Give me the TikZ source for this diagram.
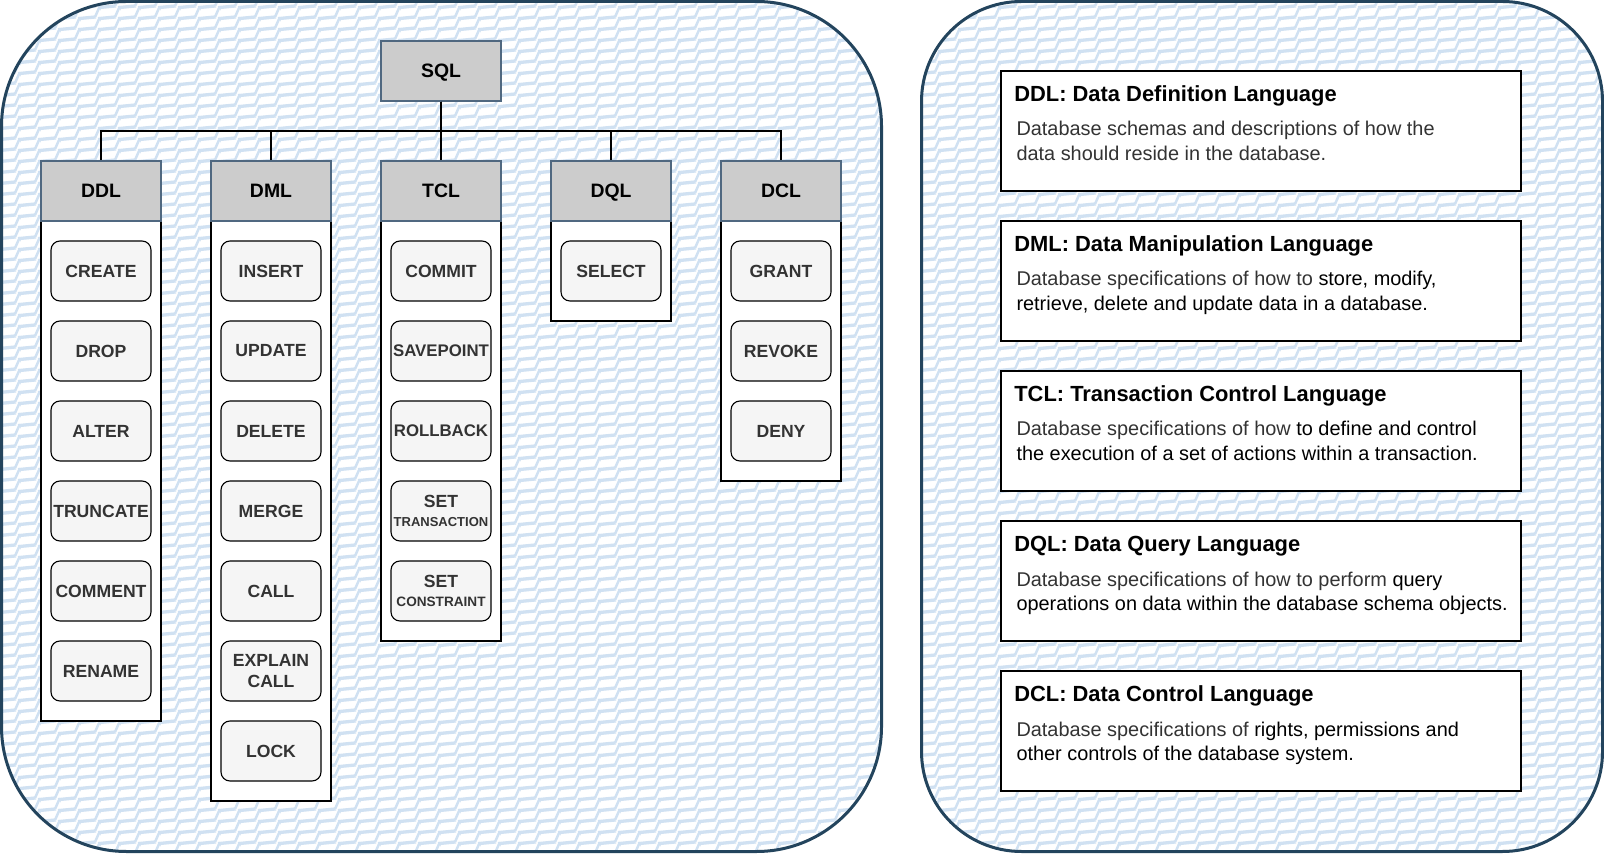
\documentclass[tikz,border=0pt]{standalone}
\usepackage{fontspec}
\setmainfont{Liberation Sans}
\usetikzlibrary{calc,patterns}
\definecolor{panelc}{HTML}{23445D}
\definecolor{zzc}{RGB}{208,225,242}
\definecolor{hdrfill}{HTML}{CCCCCC}
\definecolor{hdrc}{RGB}{80,104,128}
\definecolor{itemfill}{HTML}{F5F5F5}
\definecolor{txtgray}{HTML}{333333}
\pgfdeclarepatternformonly{zzfill}{\pgfqpoint{0pt}{0pt}}{\pgfqpoint{10pt}{5.5pt}}{\pgfqpoint{10pt}{5.5pt}}{%
  \pgfsetlinewidth{1.3pt}%
  \pgfsetmiterjoin%
  \pgfpathmoveto{\pgfqpoint{-20pt}{-11pt}}%
  \pgfpathlineto{\pgfqpoint{-12pt}{-10.2pt}}%
  \pgfpathlineto{\pgfqpoint{-10pt}{-5.5pt}}%
  \pgfpathlineto{\pgfqpoint{-2pt}{-4.7pt}}%
  \pgfpathlineto{\pgfqpoint{0pt}{0pt}}%
  \pgfpathlineto{\pgfqpoint{8pt}{0.8pt}}%
  \pgfpathlineto{\pgfqpoint{10pt}{5.5pt}}%
  \pgfpathlineto{\pgfqpoint{18pt}{6.3pt}}%
  \pgfpathlineto{\pgfqpoint{20pt}{11pt}}%
  \pgfpathmoveto{\pgfqpoint{-20pt}{-5.5pt}}%
  \pgfpathlineto{\pgfqpoint{-12pt}{-4.7pt}}%
  \pgfpathlineto{\pgfqpoint{-10pt}{0pt}}%
  \pgfpathlineto{\pgfqpoint{-2pt}{0.8pt}}%
  \pgfpathlineto{\pgfqpoint{0pt}{5.5pt}}%
  \pgfpathlineto{\pgfqpoint{8pt}{6.3pt}}%
  \pgfpathlineto{\pgfqpoint{10pt}{11pt}}%
  \pgfpathlineto{\pgfqpoint{18pt}{11.8pt}}%
  \pgfpathlineto{\pgfqpoint{20pt}{16.5pt}}%
  \pgfpathmoveto{\pgfqpoint{-20pt}{-16.5pt}}%
  \pgfpathlineto{\pgfqpoint{-12pt}{-15.7pt}}%
  \pgfpathlineto{\pgfqpoint{-10pt}{-11pt}}%
  \pgfpathlineto{\pgfqpoint{-2pt}{-10.2pt}}%
  \pgfpathlineto{\pgfqpoint{0pt}{-5.5pt}}%
  \pgfpathlineto{\pgfqpoint{8pt}{-4.7pt}}%
  \pgfpathlineto{\pgfqpoint{10pt}{0pt}}%
  \pgfpathlineto{\pgfqpoint{18pt}{0.8pt}}%
  \pgfpathlineto{\pgfqpoint{20pt}{5.5pt}}%
  \pgfusepath{stroke}%
}
\tikzset{
  panel/.style={draw=panelc, line width=1.5pt, preaction={fill=white}, pattern=zzfill, pattern color=zzc},
  hdr/.style={draw=hdrc, line width=0.7pt, fill=hdrfill, minimum width=60pt, minimum height=30pt, inner sep=0pt, text depth=0pt, font=\fontsize{9.7}{11}\selectfont\bfseries},
  colbody/.style={draw=black, line width=1pt, fill=white, minimum width=60pt, inner sep=0pt},
  item/.style={draw=black, line width=0.55pt, fill=itemfill, rounded corners=4.5pt, minimum width=50pt, minimum height=30pt, inner sep=0pt, align=center, text=txtgray, font=\fontsize{8.8}{10.8}\selectfont\bfseries},
  itemsm/.style={item, font=\fontsize{8.4}{10.8}\selectfont\bfseries},
  itemtwo/.style={item, font=\fontsize{8.8}{9.9}\selectfont\bfseries},
  conn/.style={draw=black, line width=1pt},
  descbox/.style={draw=black, line width=0.6pt, fill=white, minimum width=260pt, minimum height=60pt, inner sep=0pt},
  desctitle/.style={anchor=base west, inner sep=0pt, font=\fontsize{10.95}{13}\selectfont\bfseries},
  desctext/.style={anchor=base west, inner sep=0pt, font=\fontsize{9.95}{12.15}\selectfont},
}
\begin{document}
\begin{tikzpicture}[x=0.5pt,y=-0.5pt]
\useasboundingbox (0,0) rectangle (1604,854);
% panels
\path[panel, rounded corners=62.5pt] (1.5,1.5) rectangle (881.5,851.5);
\path[panel, rounded corners=50pt] (921.5,1.5) rectangle (1602.5,851.5);
% column bodies
\node[colbody, minimum height=250pt] (ddlb) at (101,471) {};
\node[colbody, minimum height=290pt] (dmlb) at (271,511) {};
\node[colbody, minimum height=210pt] (tclb) at (441,431) {};
\node[colbody, minimum height=50pt] (dqlb) at (611,271) {};
\node[colbody, minimum height=130pt] (dclb) at (781,351) {};
% headers
\node[hdr] (sql) at (441,71) {SQL};
\node[hdr] (ddl) at (101,191) {DDL};
\node[hdr] (dml) at (271,191) {DML};
\node[hdr] (tcl) at (441,191) {TCL};
\node[hdr] (dql) at (611,191) {DQL};
\node[hdr] (dcl) at (781,191) {DCL};
% connectors
\coordinate (bus) at (441,131);
\draw[conn] (sql.south) -- (bus) -| (ddl.north);
\draw[conn] (sql.south) -- (bus) -| (dml.north);
\draw[conn] (sql.south) -- (bus) -| (tcl.north);
\draw[conn] (sql.south) -- (bus) -| (dql.north);
\draw[conn] (sql.south) -- (bus) -| (dcl.north);
% DDL items
\node[item] (ddl1) at (101,271) {CREATE};
\node[item] (ddl2) at (101,351) {DROP};
\node[item] (ddl3) at (101,431) {ALTER};
\node[item] (ddl4) at (101,511) {TRUNCATE};
\node[item] (ddl5) at (101,591) {COMMENT};
\node[item] (ddl6) at (101,671) {RENAME};
% DML items
\node[item] (dml1) at (271,271) {INSERT};
\node[item] (dml2) at (271,351) {UPDATE};
\node[item] (dml3) at (271,431) {DELETE};
\node[item] (dml4) at (271,511) {MERGE};
\node[item] (dml5) at (271,591) {CALL};
\node[item] (dml6) at (271,671) {EXPLAIN\\CALL};
\node[item] (dml7) at (271,751) {LOCK};
% TCL items
\node[item] (tcl1) at (441,271) {COMMIT};
\node[itemsm] (tcl2) at (441,351) {SAVEPOINT};
\node[itemsm] (tcl3) at (441,431) {ROLLBACK};
\node[itemtwo] (tcl4) at (441,511) {SET\\{\fontsize{6.5}{9.9}\selectfont TRANSACTION}};
\node[itemtwo] (tcl5) at (441,591) {SET\\{\fontsize{6.8}{9.9}\selectfont CONSTRAINT}};
% DQL items
\node[item] (dql1) at (611,271) {SELECT};
% DCL items
\node[item] (dcl1) at (781,271) {GRANT};
\node[item] (dcl2) at (781,351) {REVOKE};
\node[item] (dcl3) at (781,431) {DENY};
% description boxes
\node[descbox] (rddl) at (1261,131) {};
\node[descbox] (rdml) at (1261,281) {};
\node[descbox] (rtcl) at (1261,431) {};
\node[descbox] (rdql) at (1261,581) {};
\node[descbox] (rdcl) at (1261,731) {};
\node[desctitle] (rddlt) at ($(rddl.north west)+(13.5,31)$) {DDL: Data Definition Language};
\node[desctext] (rddla) at ($(rddl.north west)+(15.7,65.6)$) {\color{txtgray}Database schemas and descriptions of how the};
\node[desctext] (rddlb) at ($(rddl.north west)+(15.7,89.9)$) {\color{txtgray}data should reside in the database.};
\node[desctitle] (rdmlt) at ($(rdml.north west)+(13.5,31)$) {DML: Data Manipulation Language};
\node[desctext] (rdmla) at ($(rdml.north west)+(15.7,65.6)$) {{\color{txtgray}Database specifications of how to} store, modify,};
\node[desctext] (rdmlb) at ($(rdml.north west)+(15.7,89.9)$) {retrieve, delete and update data in a database.};
\node[desctitle] (rtclt) at ($(rtcl.north west)+(13.5,31)$) {TCL: Transaction Control Language};
\node[desctext] (rtcla) at ($(rtcl.north west)+(15.7,65.6)$) {{\color{txtgray}Database specifications of how} to define and control};
\node[desctext] (rtclb) at ($(rtcl.north west)+(15.7,89.9)$) {the execution of a set of actions within a transaction.};
\node[desctitle] (rdqlt) at ($(rdql.north west)+(13.5,31)$) {DQL: Data Query Language};
\node[desctext] (rdqla) at ($(rdql.north west)+(15.7,65.6)$) {{\color{txtgray}Database specifications of how to perform} query};
\node[desctext] (rdqlb) at ($(rdql.north west)+(15.7,89.9)$) {operations on data within the database schema objects.};
\node[desctitle] (rdclt) at ($(rdcl.north west)+(13.5,31)$) {DCL: Data Control Language};
\node[desctext] (rdcla) at ($(rdcl.north west)+(15.7,65.6)$) {{\color{txtgray}Database specifications of} rights, permissions and};
\node[desctext] (rdclb) at ($(rdcl.north west)+(15.7,89.9)$) {other controls of the database system.};
\end{tikzpicture}
\end{document}
